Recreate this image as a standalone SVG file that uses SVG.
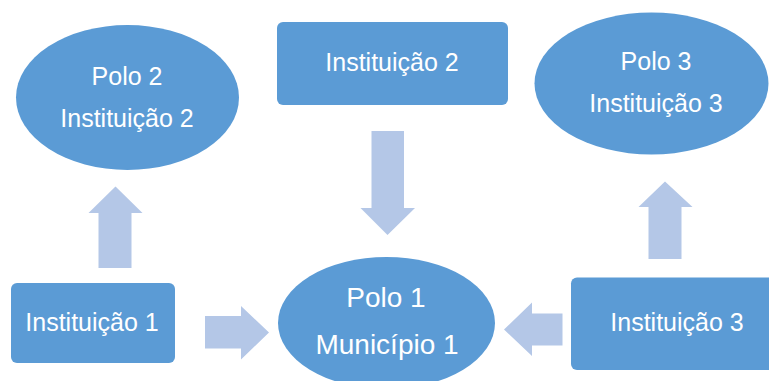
<svg xmlns="http://www.w3.org/2000/svg" width="769" height="381" viewBox="0 0 769 381">
<style>
.n{fill:#5B9BD5}
.a{fill:#B4C7E7}
text{font-family:"Liberation Sans",Arial,sans-serif;fill:#FFFFFF;text-anchor:middle;font-size:25px}
.big{font-size:28px}
</style>
<rect width="769" height="381" fill="#FFFFFF"/>
<g id="connectors">
<polygon class="a" points="98.5,268 131.5,268 131.5,213 142.5,213 115.5,186.5 88.5,213 98.5,213"/>
<polygon class="a" points="371.5,131 404,131 404,208 415,208 387.5,235 360.5,208 371.5,208"/>
<polygon class="a" points="648.5,259 681.5,259 681.5,207 692.5,207 665,181.5 638.5,207 648.5,207"/>
<polygon class="a" points="205,316 241,316 241,306 269,332.5 241,359.5 241,348.5 205,348.5"/>
<polygon class="a" points="562.5,313.5 532,313.5 532,302.5 504,329.5 532,356 532,345.5 562.5,345.5"/>
</g>
<g id="polo2">
<ellipse class="n" cx="127.5" cy="97.5" rx="111.5" ry="72.5"/>
<text x="127" y="85">Polo 2</text>
<text x="127" y="127">Instituição 2</text>
</g>
<g id="inst2">
<rect class="n" x="277" y="22" width="231" height="83" rx="6"/>
<text x="392" y="71">Instituição 2</text>
</g>
<g id="polo3">
<ellipse class="n" cx="651.5" cy="83.5" rx="117" ry="71"/>
<text x="656" y="70">Polo 3</text>
<text x="656" y="111.5">Instituição 3</text>
</g>
<g id="inst1">
<rect class="n" x="11" y="283" width="164" height="80" rx="6"/>
<text x="92" y="331">Instituição 1</text>
</g>
<g id="polo1">
<ellipse class="n" cx="386.5" cy="323" rx="108.5" ry="66"/>
<text class="big" x="386" y="307">Polo 1</text>
<text class="big" x="387" y="353.5">Município 1</text>
</g>
<g id="inst3">
<rect class="n" x="571" y="277.5" width="206" height="92.5" rx="6"/>
<text x="677" y="331">Instituição 3</text>
</g>
</svg>
